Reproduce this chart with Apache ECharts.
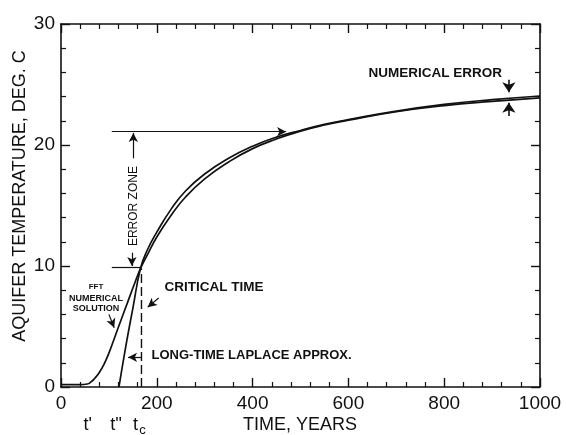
<!DOCTYPE html>
<html><head><meta charset="utf-8">
<script src="https://cdn.jsdelivr.net/npm/echarts@6/dist/echarts.min.js"></script>
<style>html,body{margin:0;padding:0;background:#fff}#c{width:566px;height:435px}</style>
</head><body><div id="c"></div>
<script>
// ---- data ----
const xTickLabels = [0, 200, 400, 600, 800, 1000];
const yTickLabels = [0, 10, 20, 30];
const fftYears = [0, 20, 40, 55, 62, 70, 80, 90, 100, 113, 125, 140, 155, 166, 180, 200, 230, 260, 300, 350, 400, 450, 500, 550, 600, 700, 800, 900, 1000];
const fftTemp  = [0.2, 0.2, 0.2, 0.25, 0.4, 0.7, 1.2, 1.9, 2.8, 4.2, 5.5, 7.1, 8.7, 9.8, 10.9, 12.4, 14.2, 15.7, 17.2, 18.6, 19.7, 20.5, 21.15, 21.65, 22.05, 22.75, 23.25, 23.6, 23.9];
const lapYears = [121, 135, 150, 166, 180, 200, 230, 260, 300, 350, 400, 450, 500, 550, 600, 700, 800, 900, 1000];
const lapTemp  = [0, 3.3, 6.5, 9.8, 11.3, 12.8, 14.7, 16.2, 17.6, 18.9, 19.9, 20.65, 21.2, 21.7, 22.1, 22.8, 23.35, 23.75, 24.05];
const criticalTime = 168;
const criticalTemp = 9.8;
const errorZoneTop = 21.1;
const errorZoneBottom = 9.9;

const chart = echarts.init(document.getElementById('c'));
const FONT = 'Liberation Sans';
const black = '#111';
function pairs(xs, ys){ return xs.map((x,i)=>[x, ys[i]]); }

const G = {left: 61, right: 26, top: 24, bottom: 48};
const XMAX = 1000, YMAX = 30;
const W = 566 - G.left - G.right, H = 435 - G.top - G.bottom;
function px(x, y){ return [G.left + x / XMAX * W, G.top + (YMAX - y) / YMAX * H]; }

function axisBase(extra){
  return Object.assign({
    type: 'value',
    axisLine: {show: true, onZero: false, lineStyle: {color: black, width: 1.6}},
    splitLine: {show: false},
    axisTick: {show: true, inside: true, length: 9, lineStyle: {color: black, width: 1.4}},
    minorTick: {show: true, splitNumber: 5, length: 5, lineStyle: {color: black, width: 1.2}},
  }, extra);
}
const lab = {color: black, fontFamily: FONT, fontSize: 19, margin: 7, formatter: v => String(v)};

const ml = (a, b, sym) => [{coord: a, symbol: sym[0]}, {coord: b, symbol: sym[1]}];

const txt = (pos, text, fs, weight, align) => ({
  type: 'text', x: pos[0], y: pos[1],
  style: {text: text, fill: black, font: `${weight} ${fs}px "${FONT}"`, textAlign: align || 'left', textVerticalAlign: 'middle'}
});

const pNum = px(642, 25.9), pCrit = px(216, 8.2), pLong = px(189, 2.6);
const pEZ = px(151, 14.95);
const pF1 = px(73, 8.3), pF2 = px(73, 7.3), pF3 = px(73, 6.5);
const tBase = 425;
const pTc = px(criticalTime, 0)[0];

chart.setOption({
  animation: false,
  grid: G,
  xAxis: [
    axisBase({min: 0, max: XMAX, interval: 200, position: 'bottom', axisLabel: lab}),
    axisBase({min: 0, max: XMAX, interval: 200, position: 'top', axisLabel: {show: false}})
  ],
  yAxis: [
    axisBase({min: 0, max: YMAX, interval: 10, position: 'left', axisLabel: Object.assign({}, lab, {margin: 6})}),
    axisBase({min: 0, max: YMAX, interval: 10, position: 'right', axisLabel: {show: false}})
  ],
  series: [
    {
      name: 'FFT numerical solution', type: 'line', data: pairs(fftYears, fftTemp),
      showSymbol: false, smooth: 0.5,
      lineStyle: {color: black, width: 1.7}, z: 3,
      markLine: {
        silent: true, symbolSize: [7, 9], label: {show: false},
        lineStyle: {color: black, width: 1.2, type: 'solid'},
        data: [
          ml([106, errorZoneTop], [470, errorZoneTop], ['none', 'arrow']),
          ml([106, errorZoneBottom], [criticalTime - 2, errorZoneBottom], ['none', 'none']),
          ml([151, 18.9], [151, errorZoneTop - 0.1], ['none', 'arrow']),
          ml([148, 11.1], [148, errorZoneBottom + 0.1], ['none', 'arrow']),
          ml([204, 7.35], [181, 6.6], ['none', 'arrow']),
          ml([100, 6.0], [111, 4.9], ['none', 'arrow']),
          ml([criticalTime, 2.45], [140, 2.45], ['none', 'arrow'])
        ]
      }
    },
    {
      name: 'Long-time Laplace approx.', type: 'line', data: pairs(lapYears, lapTemp),
      showSymbol: false, smooth: 0.5,
      lineStyle: {color: black, width: 1.7}, z: 3,
      markLine: {
        silent: true, symbolSize: [10, 10], label: {show: false},
        lineStyle: {color: black, width: 1.6, type: 'solid'},
        data: [
          ml([935, 25.4], [935, 24.35], ['none', 'arrow']),
          ml([935, 22.4], [935, 23.5], ['none', 'arrow'])
        ]
      }
    },
    {
      name: 'Critical time', type: 'line', data: [[criticalTime, 0], [criticalTime, criticalTemp]],
      showSymbol: false, lineStyle: {color: black, width: 1.4, type: [9, 4]}
    }
  ],
  graphic: [
    txt(pNum, 'NUMERICAL ERROR', 13.5, 'bold'),
    txt(pCrit, 'CRITICAL TIME', 13.5, 'bold'),
    txt(pLong, 'LONG-TIME LAPLACE APPROX.', 13, 'bold'),
    {type: 'text', x: pEZ[0], y: pEZ[1], rotation: Math.PI / 2,
      style: {text: 'ERROR ZONE', fill: black, font: `12px "${FONT}"`, textAlign: 'center', textVerticalAlign: 'middle'}},
    txt(pF1, 'FFT', 8, 'bold', 'center'),
    txt(pF2, 'NUMERICAL', 9, 'bold', 'center'),
    txt(pF3, 'SOLUTION', 9, 'bold', 'center'),
    {type: 'text', x: 20, y: 196, rotation: Math.PI / 2,
      style: {text: 'AQUIFER TEMPERATURE, DEG. C', fill: black, font: `18px "${FONT}"`, textAlign: 'center', textVerticalAlign: 'middle'}},
    txt([300, tBase], 'TIME, YEARS', 18, 'normal', 'center'),
    txt([px(56, 0)[0], tBase], "t'", 18, 'normal', 'center'),
    txt([px(115, 0)[0], tBase], "t''", 18, 'normal', 'center'),
    txt([pTc - 6, tBase], 't', 18, 'normal', 'center'),
    txt([pTc + 1, tBase + 5], 'c', 13, 'normal', 'center')
  ]
});
</script></body></html>
